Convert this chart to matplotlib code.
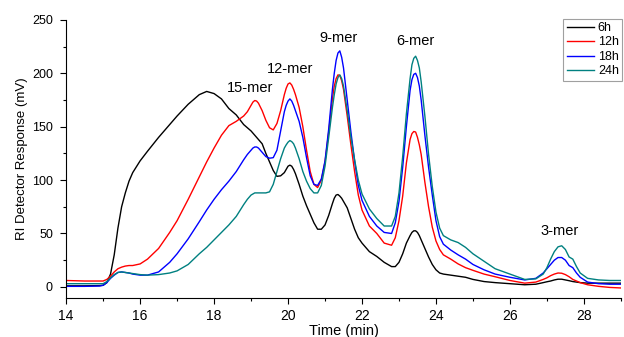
import numpy as np
import matplotlib
matplotlib.use("Agg")
import matplotlib.pyplot as plt
from matplotlib.ticker import MultipleLocator

plt.rcParams["font.family"] = ["Liberation Sans", "DejaVu Sans"]

# elution time (min)
t = [14.0, 14.5, 14.9, 15.0, 15.1, 15.2, 15.3, 15.4, 15.5, 15.6,
     15.7, 15.8, 16.0, 16.2, 16.5, 16.8, 17.0, 17.3, 17.6, 17.8,
     18.0, 18.2, 18.4, 18.6, 18.8, 18.9, 19.0, 19.05, 19.1, 19.15,
     19.2, 19.3, 19.4, 19.5, 19.6, 19.7, 19.8, 19.9, 19.95, 20.0,
     20.05, 20.1, 20.15, 20.2, 20.3, 20.4, 20.5, 20.6, 20.7, 20.8,
     20.9, 21.0, 21.1, 21.2, 21.25, 21.3, 21.35, 21.4, 21.45, 21.5,
     21.6, 21.7, 21.8, 21.9, 22.0, 22.2, 22.4, 22.6, 22.8, 22.9,
     23.0, 23.1, 23.2, 23.3, 23.35, 23.4, 23.45, 23.5, 23.55, 23.6,
     23.7, 23.8, 23.9, 24.0, 24.1, 24.2, 24.4, 24.6, 24.8, 25.0,
     25.3, 25.6, 26.0, 26.4, 26.7, 26.9, 27.0, 27.1, 27.2, 27.3,
     27.4, 27.5, 27.6, 27.7, 27.8, 27.9, 28.1, 28.4, 28.7, 29.0]

# RI detector response (mV)
h6 = [1, 1, 1.2, 1.5, 4, 12, 30, 55, 75, 88,
      99, 107, 118, 127, 140, 152, 160, 171, 180, 183,
      181, 176, 167, 161, 152, 149, 146, 144, 142, 140,
      138, 134, 125, 117, 109, 103.5, 104, 107, 110, 113,
      114, 113, 110, 106, 96, 85, 76, 68, 60, 54,
      54, 58, 67, 78, 83, 86, 86.5, 85, 83, 80,
      74, 64, 54, 46, 41, 33, 28.5, 23, 19, 19,
      23, 31, 41, 48, 51, 52.5, 52.5, 51, 48, 44,
      36, 28, 21, 16, 13, 12, 11, 10, 9, 7,
      5, 4, 3, 2, 2.5, 4, 4.8, 5.5, 6.5, 7.2,
      7.2, 6.5, 5.8, 5, 4.5, 4, 3.5, 3.5, 3.5, 3.5]
h12 = [6, 5.5, 5.5, 5.5, 7, 10, 14, 17, 18.5, 19.5,
       20, 20, 21.5, 26, 36, 51, 62, 82, 103, 117,
       130, 142, 151, 155, 160, 164, 170, 173, 174.5, 174,
       172, 165, 156, 149, 147, 153, 165, 180, 186, 190,
       191, 189, 185, 180, 168, 150, 128, 108, 96, 93,
       100, 117, 145, 176, 188, 195, 198.5, 198, 193, 185,
       160, 133, 108, 86, 72, 57, 50, 41, 39, 46,
       62, 85, 116, 138, 143.5, 145.5, 145, 140, 133, 124,
       98, 75, 56, 43, 35, 30, 26, 21.5, 18, 15.5,
       12, 9.5, 6, 3.5, 4.5, 7, 8.5, 10.5, 12, 13,
       12.8, 11.5, 9.5, 7, 5.5, 4, 2, 0.5, -0.5, -1]
h18 = [0.5, 0.5, 0.8, 1.5, 4, 8, 11, 13.5, 14, 13.5,
       13, 12, 11, 11, 14, 23, 31, 45, 61, 72,
       82, 91, 99, 108, 119, 124, 128, 130, 131, 131,
       130, 126, 122, 120.5, 121, 128, 146, 164, 170, 174,
       176, 174, 170, 165, 155, 140, 121, 104, 96, 95,
       101, 118, 148, 185, 200, 212, 219, 221, 215, 205,
       175, 145, 118, 95, 81, 66, 57, 51, 50, 60,
       80, 112, 150, 184, 194, 199, 200, 196, 188, 175,
       142, 112, 86, 62, 47, 40, 34.5, 30, 26, 21,
       16, 12, 9, 6.5, 8, 13, 17, 21, 25, 27.5,
       27.5, 25, 20, 18, 13, 9, 4.5, 3, 2.5, 2.5]
h24 = [3, 3, 3, 3, 5, 8.5, 11.5, 13.5, 14, 13.5,
       13, 12.5, 11.5, 11, 11.5, 13, 15, 21, 31, 37,
       44, 51, 58, 66, 77, 82, 86, 87, 88, 88,
       88, 88, 88, 89, 96, 108, 120, 130, 133, 135.5,
       137, 136, 134, 130, 120, 108, 99, 92, 88, 88,
       95, 113, 140, 168, 180, 190, 196, 198.5, 195, 188,
       165, 140, 119, 100, 87, 73, 64, 57, 57, 66,
       88, 122, 162, 195, 208, 214, 216, 212, 205, 192,
       160, 124, 94, 70, 55, 48, 44, 41.5, 37, 31,
       24, 17, 12, 7, 7.5, 12, 18, 26, 33, 37.5,
       38.5, 35, 28, 26, 19, 13, 8, 6.5, 6, 6]

series = [("6h", h6, "#000000"),
          ("12h", h12, "#ff0000"),
          ("18h", h18, "#0000ff"),
          ("24h", h24, "#008080")]

peak_labels = ["15-mer", "12-mer", "9-mer", "6-mer", "3-mer"]
peak_pos = [(18.97, 186), (20.05, 204), (21.36, 233), (23.43, 230), (27.35, 52)]


def main():
    fig = plt.figure(figsize=(6.24, 3.37), dpi=100)
    ax = fig.add_axes([0.106, 0.117, 0.889, 0.824])

    for name, vals, c in series:
        ax.plot(t, vals, "-", color=c, lw=1.0, label=name)

    for lab, (x, y) in zip(peak_labels, peak_pos):
        ax.text(x, y, lab, ha="center", va="center", fontsize=10.5)

    ax.set_xlim(14, 29)
    ax.set_ylim(-10, 250)
    ax.xaxis.set_major_locator(MultipleLocator(2))
    ax.xaxis.set_minor_locator(MultipleLocator(1))
    ax.yaxis.set_major_locator(MultipleLocator(50))
    ax.yaxis.set_minor_locator(MultipleLocator(25))
    ax.tick_params(which="both", direction="out", width=0.8)
    ax.tick_params(which="major", length=4.5)
    ax.tick_params(which="minor", length=2.5)
    ax.tick_params(axis="x", labelsize=10)
    ax.tick_params(axis="y", labelsize=9, pad=5)
    ax.spines["top"].set_visible(False)
    ax.spines["right"].set_visible(False)

    ax.set_xlabel("Time (min)", fontsize=10.5, labelpad=1)
    ax.set_ylabel("RI Detector Response (mV)", fontsize=9.5, labelpad=3)

    leg = ax.legend(loc="upper right", bbox_to_anchor=(1.002, 1.004), fontsize=9,
                    fancybox=False, edgecolor="#a0a0a0", framealpha=1,
                    handlelength=2.2, handletextpad=0.3, labelspacing=0.2,
                    borderpad=0.25, borderaxespad=0)
    leg.get_frame().set_linewidth(0.8)

    fig.savefig("out.png", dpi=100)


if __name__ == "__main__":
    main()
